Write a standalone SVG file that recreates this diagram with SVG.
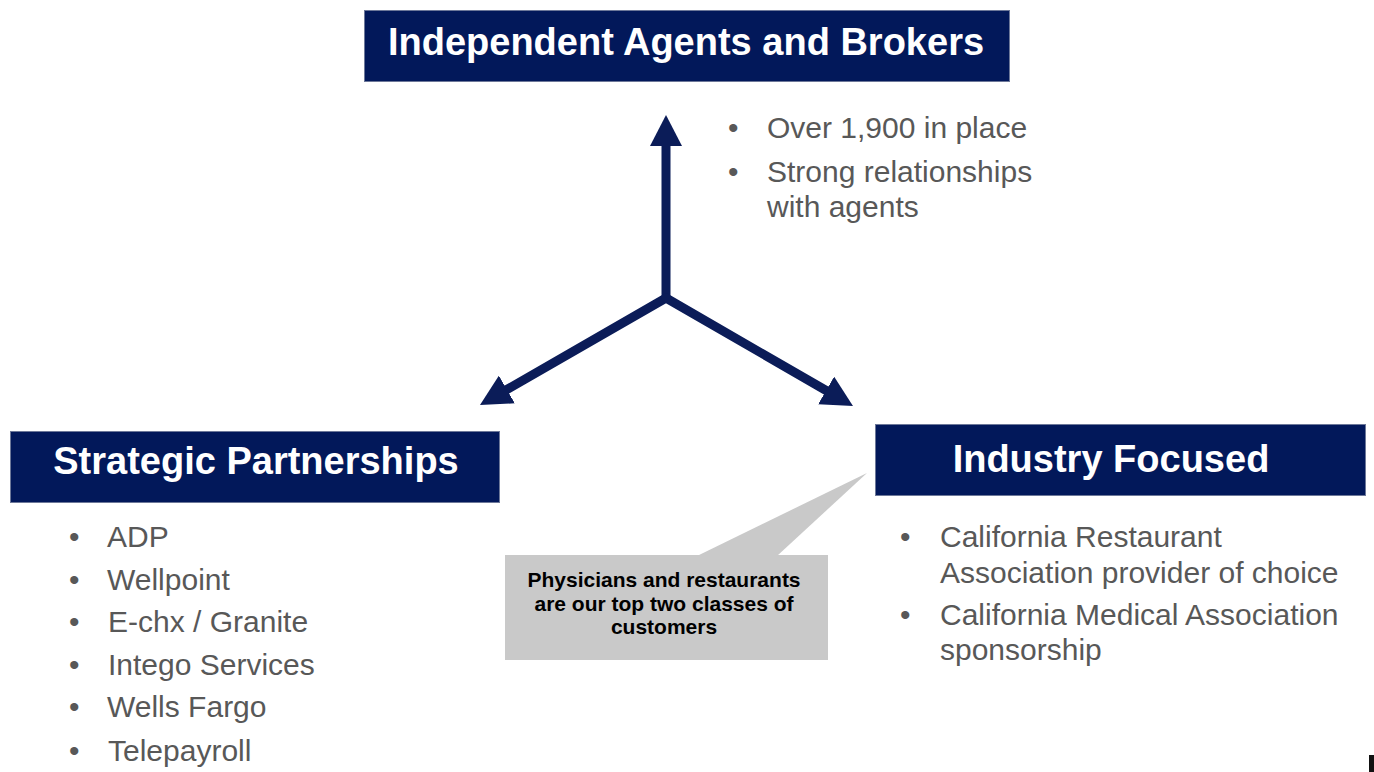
<svg xmlns="http://www.w3.org/2000/svg" width="1374" height="772" viewBox="0 0 1374 772">
<style>
.hdr{fill:#02185A;stroke:#6d7899;stroke-width:1}
.hdrt{font-family:"Liberation Sans",Arial,sans-serif;font-weight:bold;font-size:38px;fill:#fff;text-anchor:middle}
.body{font-family:"Liberation Sans",Arial,sans-serif;font-size:30px;fill:#585858}
.conn{stroke:#0B1C58;stroke-width:9;fill:none;stroke-linecap:round}
.call{fill:#C9C9C9}
.callt{font-family:"Liberation Sans",Arial,sans-serif;font-weight:bold;font-size:21px;fill:#000;text-anchor:middle}
</style>
<defs>
<marker id="ah" markerUnits="userSpaceOnUse" markerWidth="32" markerHeight="32" viewBox="0 0 32 32" refX="1" refY="16" orient="auto">
<path d="M0,0 L31,16 L0,32 z" fill="#0B1C58"/>
</marker>
</defs>
<rect width="1374" height="772" fill="#fff"/>
<g id="connectors">
<path class="conn" d="M666,298 L666,145" marker-end="url(#ah)"/>
<path class="conn" d="M666,298 L506,390" marker-end="url(#ah)"/>
<path class="conn" d="M666,298 L827,391" marker-end="url(#ah)"/>
</g>
<g id="node-agents">
<rect class="hdr" x="364.5" y="10.5" width="645" height="71"/>
<text class="hdrt" x="686" y="55">Independent Agents and Brokers</text>
</g>
<g id="agents-bullets" class="body">
<text x="728" y="138">•</text><text x="767" y="138">Over 1,900 in place</text>
<text x="728" y="182">•</text><text x="767" y="182">Strong relationships</text>
<text x="767" y="217">with agents</text>
</g>
<g id="node-partnerships">
<rect class="hdr" x="10.5" y="431.5" width="489" height="71"/>
<text class="hdrt" x="256" y="474">Strategic Partnerships</text>
</g>
<g id="partnership-bullets" class="body">
<text x="69" y="547">•</text><text x="107" y="547">ADP</text>
<text x="69" y="590">•</text><text x="107" y="590">Wellpoint</text>
<text x="69" y="632">•</text><text x="108" y="632">E-chx / Granite</text>
<text x="69" y="675">•</text><text x="108" y="675">Intego Services</text>
<text x="69" y="717">•</text><text x="107" y="717">Wells Fargo</text>
<text x="69" y="761">•</text><text x="108" y="761">Telepayroll</text>
</g>
<g id="node-industry">
<rect class="hdr" x="875.5" y="424.5" width="490" height="71"/>
<text class="hdrt" x="1111" y="472">Industry Focused</text>
</g>
<g id="industry-bullets" class="body">
<text x="900" y="547">•</text><text x="940" y="547">California Restaurant</text>
<text x="940" y="583">Association provider of choice</text>
<text x="900" y="625">•</text><text x="940" y="625">California Medical Association</text>
<text x="940" y="660">sponsorship</text>
</g>
<g id="callout">
<polygon class="call" points="697,556 867,473 777,556"/>
<rect class="call" x="505" y="555" width="323" height="105"/>
<text class="callt" x="664" y="587">Physicians and restaurants</text>
<text class="callt" x="664" y="611">are our top two classes of</text>
<text class="callt" x="664" y="634">customers</text>
</g>
<rect x="1369" y="755" width="5" height="17" fill="#111"/>
</svg>
